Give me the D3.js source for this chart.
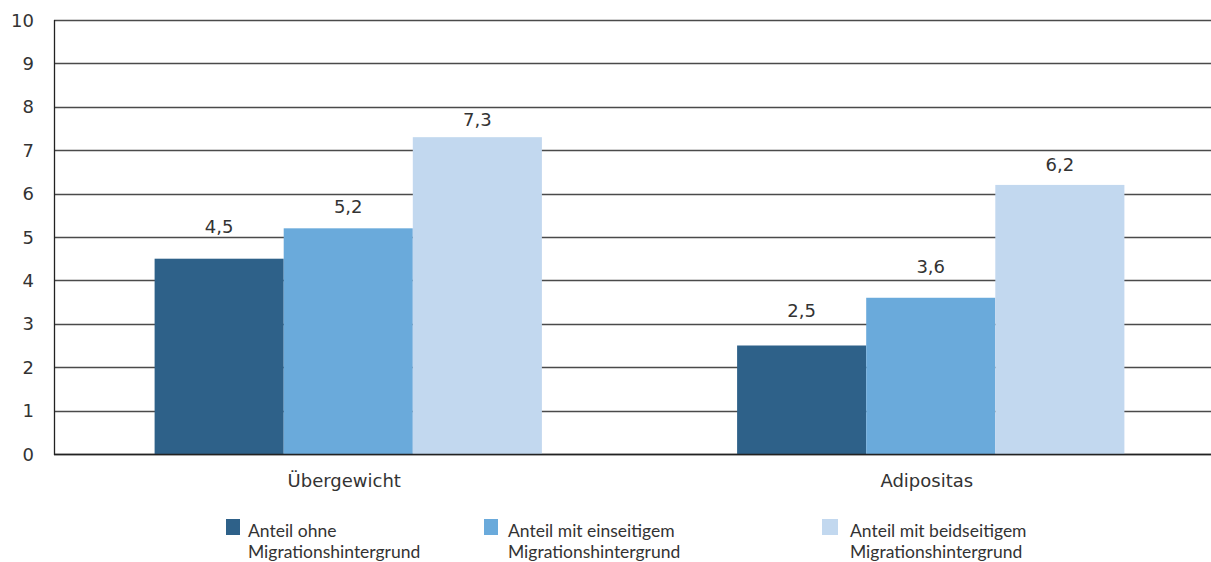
<!DOCTYPE html>
<html>
<head>
<meta charset="utf-8">
<script src="https://cdn.jsdelivr.net/npm/d3@7"></script>
<style>
  body { margin: 0; background: #fff; }
</style>
</head>
<body>
<div id="chart"></div>
<script>
// data
var categories = ["Übergewicht", "Adipositas"];
var seriesNames = ["Anteil ohne|Migrationshintergrund",
                   "Anteil mit einseitigem|Migrationshintergrund",
                   "Anteil mit beidseitigem|Migrationshintergrund"];
var seriesValues = [
  [4.5, 2.5],
  [5.2, 3.6],
  [7.3, 6.2]
];
var yTicks = [0, 1, 2, 3, 4, 5, 6, 7, 8, 9, 10];
var colors = ["#2e6189", "#6aaadb", "#c2d8ef"];

// label distance above the bar top (px), as in the original
var labelGap = [[26, 29], [15, 25], [11, 14]];

var W = 1211, H = 562;
var svg = d3.select("#chart").append("svg")
    .attr("width", W).attr("height", H);

var y = d3.scaleLinear().domain([0, 10]).range([454, 20]);
var x0 = d3.scaleBand().domain(categories).range([57, 1222]);
var x1 = d3.scaleBand().domain(d3.range(seriesNames.length))
    .range([0, x0.bandwidth()]).paddingOuter(0.756);

var font = "'DejaVu Sans', sans-serif";

// gridlines
svg.append("g").selectAll("line")
    .data(yTicks)
    .enter().append("line")
        .attr("x1", 54).attr("x2", W)
        .attr("y1", function (d) { return Math.round(y(d)) + 0.5; })
        .attr("y2", function (d) { return Math.round(y(d)) + 0.5; })
        .style("stroke", "#4a4a4a")
        .style("stroke-width", 1.3);

// tick labels
svg.append("g").selectAll("text")
    .data(yTicks)
    .enter().append("text")
        .attr("x", 34)
        .attr("y", function (d) { return y(d) + 6.5; })
        .attr("text-anchor", "end")
        .style("font-family", font)
        .style("font-size", "18px")
        .style("fill", "#333")
        .text(function (d) { return d; });

// bars
var groups = svg.append("g").selectAll("g")
    .data(seriesValues)
    .enter().append("g")
        .style("fill", function (d, i) { return colors[i]; });

groups.each(function (vals, si) {
    var g = d3.select(this);
    g.selectAll("rect")
        .data(vals)
        .enter().append("rect")
            .attr("x", function (d, ci) { return x0(categories[ci]) + x1(si); })
            .attr("width", x1.bandwidth())
            .attr("y", function (d) { return y(d); })
            .attr("height", function (d) { return y(0) - y(d); });
    g.selectAll("text")
        .data(vals)
        .enter().append("text")
            .attr("x", function (d, ci) { return x0(categories[ci]) + x1(si) + x1.bandwidth() / 2; })
            .attr("y", function (d, ci) { return y(d) - labelGap[si][ci]; })
            .attr("text-anchor", "middle")
            .style("font-family", font)
            .style("font-size", "18px")
            .style("fill", "#333")
            .text(function (d) { return String(d).replace(".", ","); });
});

// axis lines
svg.append("line")
    .attr("x1", 54.5).attr("x2", 54.5).attr("y1", 20).attr("y2", 455)
    .style("stroke", "#222").style("stroke-width", 1.3);
svg.append("line")
    .attr("x1", 54).attr("x2", W).attr("y1", 454.5).attr("y2", 454.5)
    .style("stroke", "#222").style("stroke-width", 1.3);

// category labels
svg.append("g").selectAll("text")
    .data(categories)
    .enter().append("text")
        .attr("x", function (d) { return x0(d) + x0.bandwidth() / 2 - 4; })
        .attr("y", 487)
        .attr("text-anchor", "middle")
        .style("font-family", font)
        .style("font-size", "18px")
        .style("fill", "#333")
        .text(function (d) { return d; });

// legend
var legendX = [226, 484, 822];
var legendTextX = [22, 24, 28];
var legend = svg.append("g").selectAll("g")
    .data(seriesNames)
    .enter().append("g")
        .attr("transform", function (d, i) { return "translate(" + legendX[i] + ",519)"; });
legend.append("rect")
    .attr("width", function (d, i) { return i === 2 ? 16 : 14; })
    .attr("height", 16)
    .style("fill", function (d, i) { return colors[i]; });
legend.append("text")
    .attr("y", 18)
    .style("font-family", "Lato, sans-serif")
    .style("font-size", "17.5px")
    .style("fill", "#333")
    .each(function (d, i) {
        d3.select(this).selectAll("tspan")
            .data(d.split("|"))
            .enter().append("tspan")
                .attr("x", legendTextX[i])
                .attr("dy", function (t, j) { return j ? 21 : 0; })
                .text(function (t) { return t; });
    });
</script>
</body>
</html>
